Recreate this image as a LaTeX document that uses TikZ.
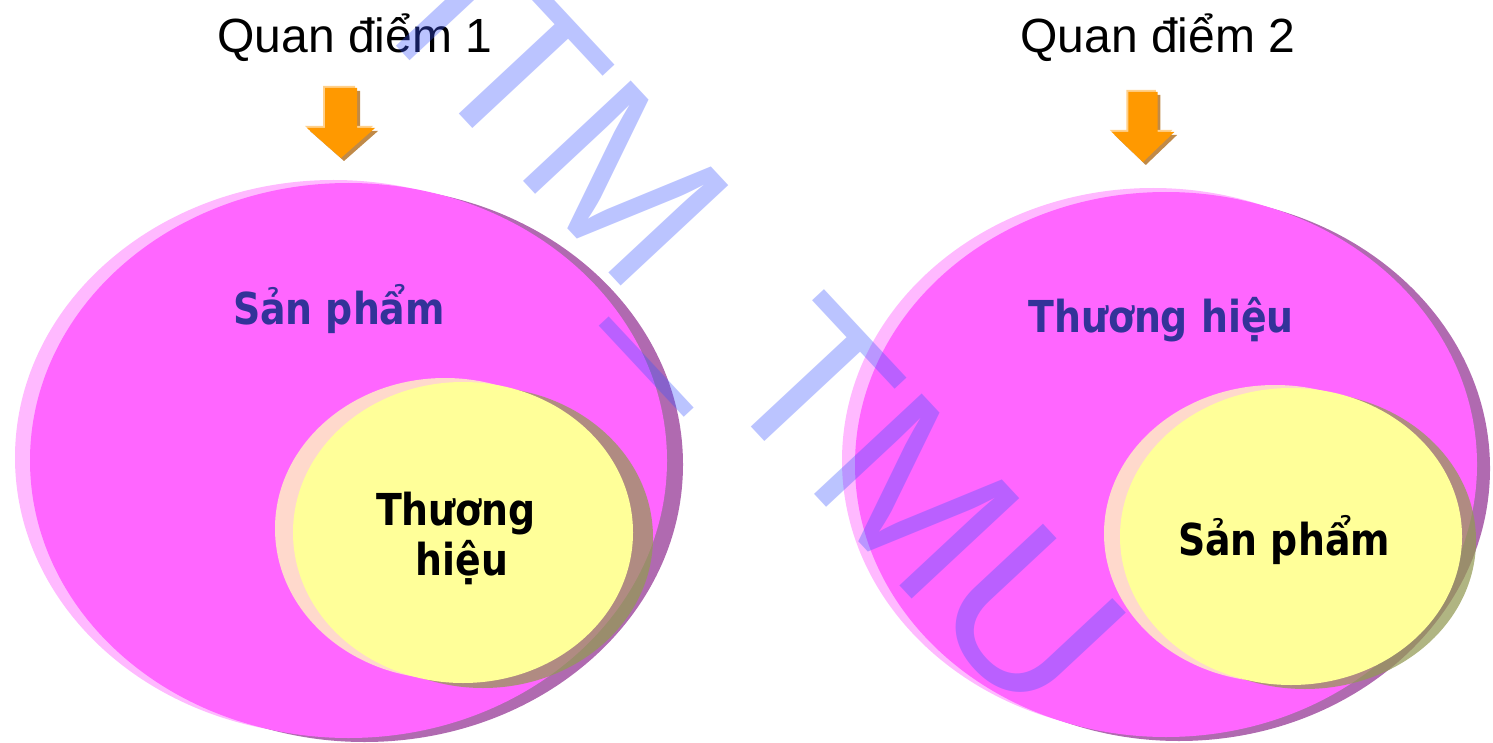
\documentclass[tikz,border=0pt]{standalone}
\usepackage{fontspec}
\setmainfont{Liberation Sans}
\newfontfamily\labelfont{DejaVu Sans}[FakeStretch=0.86]
\usetikzlibrary{positioning}

\definecolor{pinkbody}{HTML}{FF66FF}
\definecolor{pinklight}{HTML}{FFB9FF}
\definecolor{pinkdark}{HTML}{B06AB0}
\definecolor{yellowbody}{HTML}{FFFF99}
\definecolor{yellowlight}{HTML}{FFD9CC}
\definecolor{yellowdark}{RGB}{147,154,84}
\definecolor{labelblue}{HTML}{333399}
\definecolor{arrowbody}{HTML}{FF9900}
\definecolor{arrowshade}{HTML}{C08A48}
\definecolor{arrowglow}{HTML}{FFD08A}
\definecolor{wmblue}{RGB}{60,85,255}

\tikzset{
  pink light/.style={fill=pinklight},
  pink dark/.style={fill=pinkdark},
  pink main/.style={fill=pinkbody},
  yellow light/.style={fill=yellowlight},
  yellow dark/.style={fill=yellowdark, fill opacity=0.73},
  yellow main/.style={fill=yellowbody},
  heading/.style={anchor=base, inner sep=0pt, font=\fontsize{48}{48}\selectfont},
  bluelabel/.style={anchor=base, inner sep=0pt, text=labelblue, font=\labelfont\bfseries\fontsize{44}{44}\selectfont},
  blacklabel/.style={anchor=base, inner sep=0pt, font=\labelfont\bfseries\fontsize{44}{44}\selectfont},
  watermark/.style={anchor=base west, inner sep=0pt, text=wmblue, text opacity=0.35, rotate=-47, font=\fontsize{214}{214}\selectfont},
}

% ellipse with a pale copy up-left and a dark copy down-right
% #1 centre, #2 radii, #3 colour prefix, #4 pale shift, #5 dark shift
\newcommand{\blob}[5]{%
  \fill[#3 light, shift={#4}] #1 ellipse [#2];
  \fill[#3 dark, shift={#5}] #1 ellipse [#2];
  \fill[#3 main] #1 ellipse [#2];
}

\newcommand{\arrowpath}{(-16,0) -- (16,0) -- (16,40) -- (34,40) -- (0,70) -- (-34,40) -- (-16,40) -- cycle}
% #1 x of centre, #2 y of top, #3 width factor
\newcommand{\pointer}[3]{%
  \begin{scope}[shift={(#1,#2)}, xscale=#3]
    \fill[arrowshade, shift={(3,3)}] \arrowpath;
    \fill[arrowglow, shift={(-2,-2)}] \arrowpath;
    \fill[arrowbody] \arrowpath;
  \end{scope}}

\begin{document}
\begin{tikzpicture}[x=1pt, y=-1pt]
\useasboundingbox (0,0) rectangle (1493,743);

% view 1
\blob{(348.5,460.5)}{x radius=318.5pt, y radius=277.5pt}{pink}{(-15,-3)}{(16,4)}
\blob{(463,532.5)}{x radius=170pt, y radius=150.5pt}{yellow}{(-18,-4)}{(20,5)}

% view 2
\blob{(1166,464.5)}{x radius=311pt, y radius=272.5pt}{pink}{(-13,-4)}{(13,4)}
\blob{(1291,536.5)}{x radius=171pt, y radius=148.5pt}{yellow}{(-16,-3)}{(14,4)}

\pointer{341}{88}{1}
\pointer{1143}{92}{0.92}

\node[heading] (q1) at (355,53) {Quan điểm 1};
\node[heading] (q2) at (1158,53) {Quan điểm 2};

\node[bluelabel] (spL) at (339,324) {Sản phẩm};
\node[blacklabel] (thL) at (456,525) {Thương};
\node[blacklabel] (hiL) at (462,575) {hiệu};

\node[bluelabel] (thR) at (1161,332) {Thương hiệu};
\node[blacklabel] (spR) at (1284,555) {Sản phẩm};

\node[watermark] (wm) at (211,-153) {DHTM\_TMU};
\end{tikzpicture}
\end{document}
